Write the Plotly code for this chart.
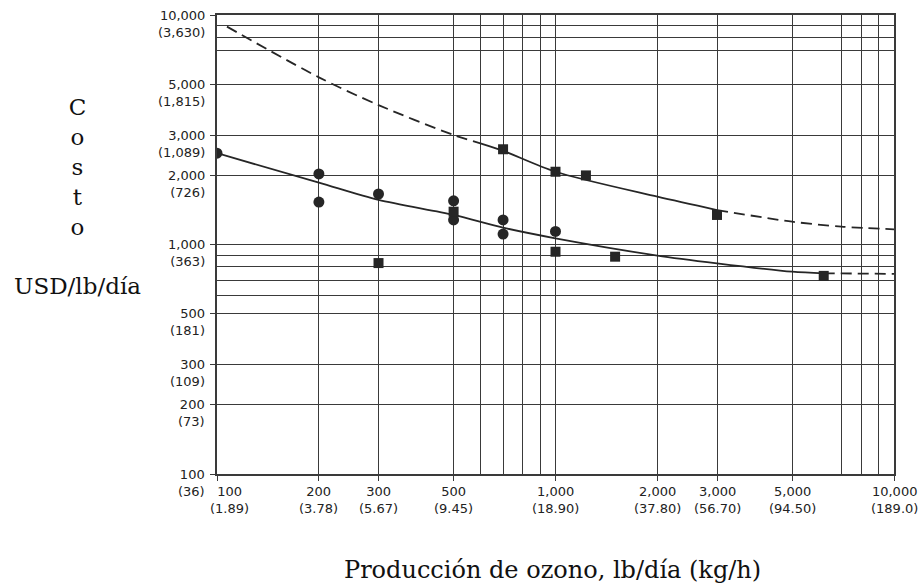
import math
import plotly.graph_objects as go

# ---- data ----
circle_x = [100, 200, 200, 300, 500, 500, 700, 700, 1000]
circle_y = [2500, 2030, 1530, 1660, 1550, 1280, 1280, 1110, 1140]

square_x = [300, 500, 700, 1000, 1000, 1230, 1500, 3000, 6200]
square_y = [830, 1390, 2600, 2075, 930, 2000, 885, 1345, 730]

upper_dash1_x = [107, 200, 300, 500, 600]
upper_dash1_y = [8900, 5350, 4050, 3000, 2760]
upper_solid_x = [600, 700, 1000, 2000, 3000]
upper_solid_y = [2760, 2560, 2075, 1616, 1413]
upper_dash2_x = [3000, 5000, 7000, 10000]
upper_dash2_y = [1413, 1257, 1196, 1165]

lower_solid_x = [100, 200, 300, 500, 700, 1000, 2000, 3000, 5000, 6200]
lower_solid_y = [2500, 1860, 1563, 1345, 1184, 1064, 895, 828, 761, 749]
lower_dash_x = [6200, 10000]
lower_dash_y = [749, 745]

x_tick_vals = [100, 200, 300, 500, 1000, 2000, 3000, 5000, 10000]
x_tick_text = ["100<br>(1.89)", "200<br>(3.78)", "300<br>(5.67)", "500<br>(9.45)",
               "1,000<br>(18.90)", "2,000<br>(37.80)", "3,000<br>(56.70)",
               "5,000<br>(94.50)", "10,000<br>(189.0)"]
x_minor_vals = [600, 700, 800, 900, 7000, 8000, 9000]

y_tick_vals = [100, 200, 300, 500, 1000, 2000, 3000, 5000, 10000]
y_tick_text = ["100<br>(36)", "200<br>(73)", "300<br>(109)", "500<br>(181)",
               "1,000<br>(363)", "2,000<br>(726)", "3,000<br>(1,089)",
               "5,000<br>(1,815)", "10,000<br>(3,630)"]
y_minor_vals = [600, 700, 800, 900, 7000, 8000, 9000]

x_title = "Producción de ozono, lb/día (kg/h)"
y_title = "C<br>o<br>s<br>t<br>o<br><br>USD/lb/día"

# ---- style ----
INK = "#262626"
GRID = "#3a3a3a"
LINE_W = 1.8
DASH = "11px,6px"

fig = go.Figure()

def curve(xs, ys, dash):
    fig.add_trace(go.Scatter(x=xs, y=ys, mode="lines",
                             line=dict(color=INK, width=LINE_W, dash=dash,
                                       shape="spline", smoothing=0.8),
                             showlegend=False, hoverinfo="skip"))

curve(upper_dash1_x, upper_dash1_y, DASH)
curve(upper_solid_x, upper_solid_y, "solid")
curve(upper_dash2_x, upper_dash2_y, DASH)
curve(lower_solid_x, lower_solid_y, "solid")
curve(lower_dash_x, lower_dash_y, DASH)

fig.add_trace(go.Scatter(x=circle_x, y=circle_y, mode="markers",
                         marker=dict(symbol="circle", size=11, color=INK),
                         showlegend=False))
fig.add_trace(go.Scatter(x=square_x, y=square_y, mode="markers",
                         marker=dict(symbol="square", size=10, color=INK),
                         showlegend=False))

axis_common = dict(
    type="log", showline=True, mirror=True, linecolor=GRID, linewidth=1.5,
    showgrid=True, gridcolor=GRID, gridwidth=1.4,
    ticks="outside", ticklen=5, tickcolor=GRID, tickwidth=1.4,
    showticklabels=False, zeroline=False,
)

fig.update_xaxes(range=[2, 4], tickmode="array", tickvals=x_tick_vals,
                 minor=dict(tickmode="array", tickvals=x_minor_vals, showgrid=True,
                            gridcolor=GRID, gridwidth=1.4, ticks=""),
                 **axis_common)
fig.update_yaxes(range=[2, 4], tickmode="array", tickvals=y_tick_vals,
                 minor=dict(tickmode="array", tickvals=y_minor_vals, showgrid=True,
                            gridcolor=GRID, gridwidth=1.4, ticks=""),
                 **axis_common)

annotations = []
tick_font = dict(family="DejaVu Sans", size=13, color="#222222")
for v, t in zip(x_tick_vals, x_tick_text):
    annotations.append(dict(
        x=math.log10(v), xref="x", y=0, yref="paper", text=t, showarrow=False,
        xanchor="center", yanchor="top", yshift=-8, align="center",
        xshift=12 if v == x_tick_vals[0] else 0, font=tick_font))
for v, t in zip(y_tick_vals, y_tick_text):
    annotations.append(dict(
        x=0, xref="paper", y=math.log10(v), yref="y", text=t, showarrow=False,
        xanchor="right", yanchor="top", yshift=9.5, xshift=-10, align="right",
        font=tick_font))

title_font = dict(family="DejaVu Serif", size=23, color="#111111")
annotations.append(dict(
    x=(77 - 217) / 677, xref="paper", y=(474 - 196.5) / 459, yref="paper",
    text=y_title, showarrow=False, xanchor="center", yanchor="middle",
    align="center", font=title_font))
annotations.append(dict(
    x=(552 - 217) / 677, xref="paper", y=(474 - 570) / 459, yref="paper",
    text=x_title, showarrow=False, xanchor="center", yanchor="middle",
    font=dict(family="DejaVu Serif", size=24, color="#111111")))

fig.update_layout(
    width=918, height=587,
    margin=dict(l=217, r=24, t=15, b=113),
    paper_bgcolor="white", plot_bgcolor="white",
    annotations=annotations, showlegend=False,
)

fig.write_html("out.html")
